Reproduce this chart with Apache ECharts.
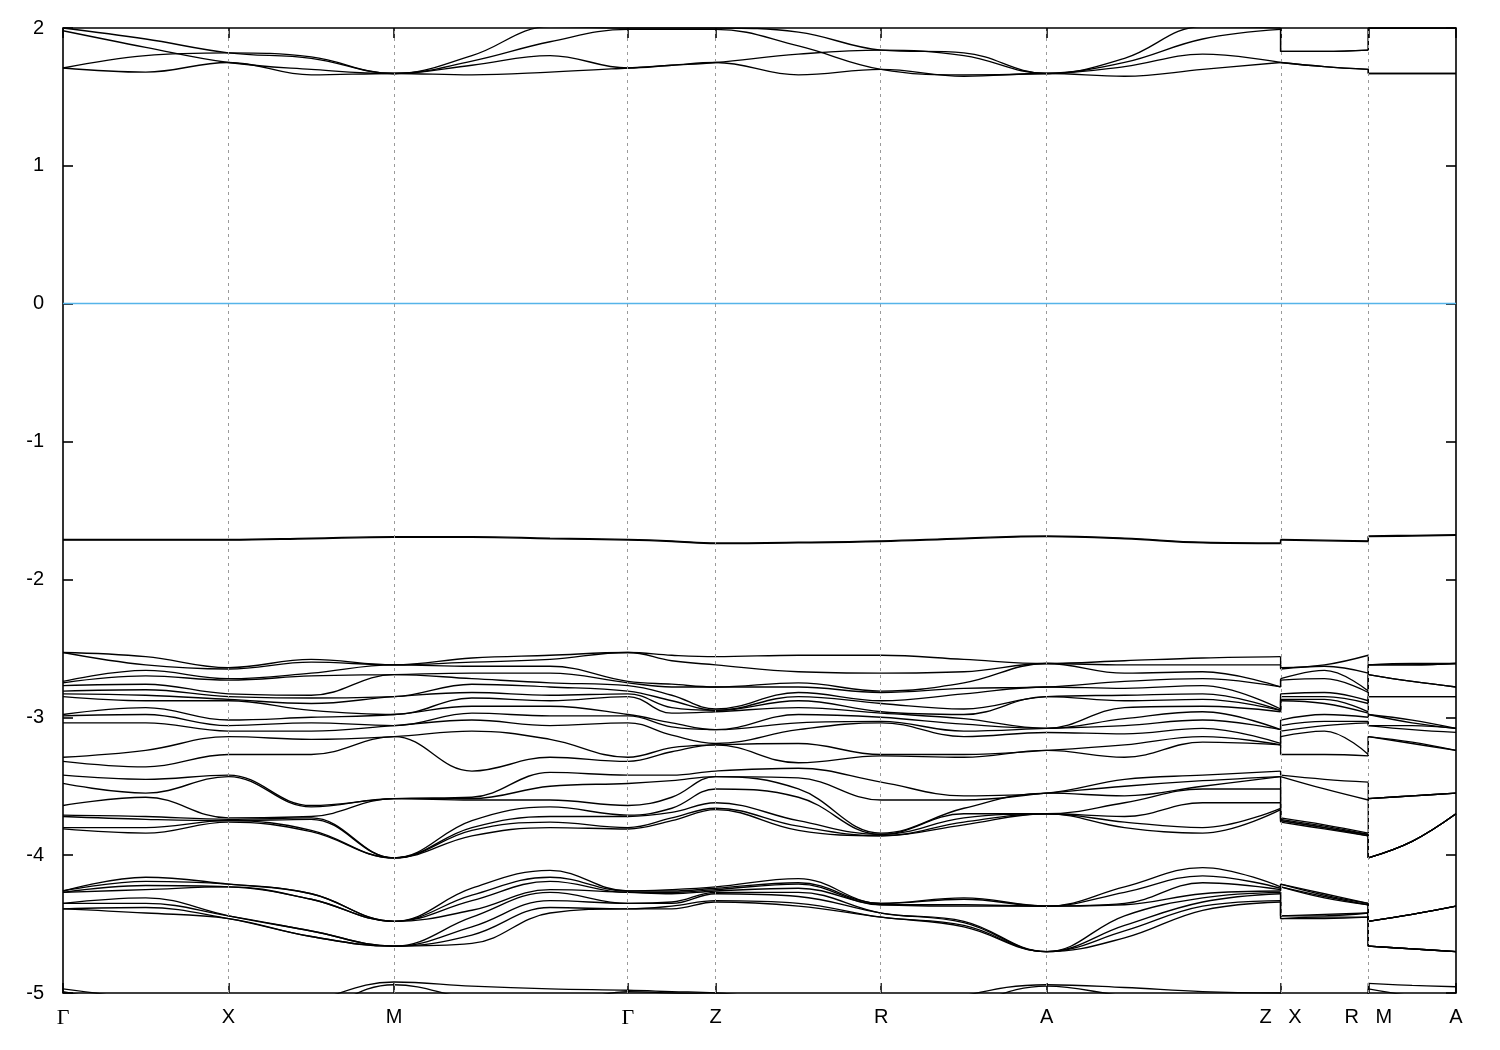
<!DOCTYPE html>
<html><head><meta charset="utf-8">
<script src="https://cdn.jsdelivr.net/npm/echarts@6/dist/echarts.min.js"></script>
<style>html,body{margin:0;padding:0;background:#fff}#chart{width:1500px;height:1050px}</style>
</head><body><div id="chart"></div>
<script>
// k-path sample positions (Γ-X = 1 unit); duplicated entries are path discontinuities
const kPath = [0,0.5,1,1.5,2,2.471,2.943,3.414,3.679,3.944,4.444,4.944,5.444,5.944,6.415,6.887,7.358,7.358,7.623,7.888,7.888,8.153,8.418];
const tickPos = [0,1,2,3.414,3.944,4.944,5.944,7.358,7.888,8.418];
const tickLabels = ['Γ','X','M','Γ','Z','R','A','Z   X','R   M','A'];

// conduction bands (eV), one value per kPath sample
const cond1 = [1.71,1.68,1.75,1.66,1.67,1.66,1.68,1.71,1.73,1.75,1.66,1.70,1.65,1.67,1.65,1.70,1.75,1.75,1.72,1.70,1.67,1.67,1.67];
const cond2 = [1.71,1.80,1.82,1.79,1.67,1.73,1.80,1.71,1.73,1.75,1.81,1.84,1.80,1.67,1.72,1.81,1.75,1.75,1.72,1.70,1.67,1.67,1.67];
const cond3 = [1.98,1.86,1.75,1.70,1.67,1.76,1.90,1.99,1.99,1.99,1.87,1.70,1.66,1.67,1.75,1.92,1.99,1.83,1.83,1.84,2.00,2.00,2.00];
const cond4 = [2.00,1.92,1.82,1.78,1.67,1.80,2.01,2.00,2.00,2.00,1.97,1.84,1.82,1.67,1.78,2.01,2.00,1.83,1.83,1.84,2.00,2.00,2.00];

// top valence bands
const val1 = [-1.71,-1.71,-1.71,-1.70,-1.69,-1.69,-1.70,-1.71,-1.72,-1.735,-1.73,-1.72,-1.70,-1.685,-1.70,-1.73,-1.735,-1.71,-1.715,-1.72,-1.685,-1.68,-1.675];
const val2 = [-1.715,-1.715,-1.715,-1.705,-1.695,-1.695,-1.705,-1.715,-1.725,-1.74,-1.735,-1.725,-1.705,-1.69,-1.705,-1.735,-1.74,-1.715,-1.72,-1.725,-1.69,-1.685,-1.68];

// deep bands near the bottom edge
const deep1 = [-4.97,-5.06,-5.20,-5.06,-4.92,-4.95,-4.97,-4.98,-4.99,-5.00,-5.06,-5.20,-5.02,-4.94,-4.96,-4.99,-5.00,-5.20,-5.20,-5.20,-4.93,-4.945,-4.955];
const deep2 = [-4.99,-5.12,-5.30,-5.15,-4.94,-5.04,-5.08,-4.99,-5.00,-5.01,-5.12,-5.30,-5.10,-4.95,-5.02,-5.06,-5.01,-5.30,-5.30,-5.30,-4.97,-5.02,-5.05];

// middle valence manifold (20 bands), energies at each sample point
const abG   = [-2.53,-2.53,-2.74,-2.75,-2.77,-2.81,-2.83,-2.85,-2.98,-2.99,-3.04,-3.29,-3.32,-3.42,-3.48,-3.64,-3.71,-3.72,-3.80,-3.81];
const abGX  = [-2.56,-2.62,-2.66,-2.70,-2.76,-2.80,-2.84,-2.88,-2.93,-2.98,-3.04,-3.24,-3.36,-3.45,-3.55,-3.58,-3.72,-3.74,-3.80,-3.84];
const abX   = [-2.64,-2.65,-2.72,-2.73,-2.83,-2.85,-2.87,-2.88,-3.02,-3.06,-3.10,-3.14,-3.27,-3.42,-3.43,-3.73,-3.74,-3.75,-3.75,-3.76];
const abXM  = [-2.58,-2.60,-2.68,-2.70,-2.84,-2.86,-2.90,-2.95,-3.00,-3.04,-3.10,-3.16,-3.27,-3.64,-3.65,-3.72,-3.73,-3.74,-3.82,-3.83];
const abM   = [-2.62,-2.62,-2.62,-2.69,-2.69,-2.85,-2.85,-2.98,-2.98,-3.06,-3.06,-3.14,-3.14,-3.59,-3.59,-3.59,-4.02,-4.02,-4.02,-4.02];
const abMG1 = [-2.57,-2.60,-2.63,-2.68,-2.72,-2.76,-2.82,-2.86,-2.92,-2.97,-3.02,-3.10,-3.39,-3.58,-3.59,-3.60,-3.75,-3.80,-3.82,-3.86];
const abMG2 = [-2.55,-2.58,-2.63,-2.68,-2.75,-2.78,-2.84,-2.88,-2.92,-2.99,-3.06,-3.16,-3.29,-3.40,-3.50,-3.60,-3.65,-3.72,-3.76,-3.80];
const abGZ  = [-2.55,-2.59,-2.76,-2.78,-2.84,-2.88,-2.93,-2.97,-3.04,-3.07,-3.13,-3.22,-3.25,-3.42,-3.46,-3.58,-3.66,-3.69,-3.73,-3.75];
const abZ   = [-2.56,-2.62,-2.78,-2.78,-2.94,-2.95,-2.95,-2.96,-3.09,-3.09,-3.19,-3.20,-3.20,-3.39,-3.43,-3.43,-3.52,-3.62,-3.66,-3.67];
const abZR  = [-2.55,-2.67,-2.75,-2.78,-2.82,-2.85,-2.88,-2.93,-2.98,-3.04,-3.09,-3.19,-3.33,-3.37,-3.44,-3.52,-3.58,-3.75,-3.79,-3.82];
const abR   = [-2.55,-2.68,-2.81,-2.82,-2.88,-2.90,-2.96,-2.97,-3.00,-3.03,-3.04,-3.27,-3.28,-3.47,-3.60,-3.84,-3.85,-3.85,-3.86,-3.86];
const abRA  = [-2.58,-2.67,-2.75,-2.79,-2.83,-2.94,-2.98,-3.01,-3.05,-3.10,-3.14,-3.27,-3.29,-3.57,-3.60,-3.66,-3.70,-3.73,-3.76,-3.78];
const abA   = [-2.61,-2.61,-2.61,-2.78,-2.78,-2.85,-2.85,-3.08,-3.08,-3.08,-3.11,-3.24,-3.24,-3.55,-3.55,-3.55,-3.70,-3.70,-3.70,-3.70];
const abAZ1 = [-2.59,-2.62,-2.68,-2.74,-2.79,-2.84,-2.88,-2.93,-3.01,-3.06,-3.12,-3.20,-3.29,-3.45,-3.50,-3.57,-3.62,-3.72,-3.76,-3.80];
const abAZ2 = [-2.57,-2.62,-2.67,-2.72,-2.77,-2.83,-2.87,-2.92,-2.96,-3.02,-3.08,-3.14,-3.18,-3.42,-3.46,-3.50,-3.52,-3.62,-3.80,-3.84];
const abXR  = [-2.62,-2.63,-2.66,-2.72,-2.82,-2.85,-2.87,-2.90,-2.98,-3.03,-3.06,-3.10,-3.27,-3.45,-3.52,-3.78,-3.79,-3.80,-3.80,-3.81];
const abMA  = [-2.62,-2.62,-2.61,-2.74,-2.74,-2.85,-2.85,-3.02,-3.04,-3.06,-3.09,-3.18,-3.19,-3.57,-3.57,-3.57,-3.90,-3.90,-3.90,-3.90];

// lower valence manifold (8 bands)
const lowG   = [-4.26,-4.26,-4.27,-4.27,-4.35,-4.35,-4.39,-4.39];
const lowGX  = [-4.16,-4.19,-4.22,-4.25,-4.31,-4.35,-4.38,-4.42];
const lowX   = [-4.21,-4.21,-4.23,-4.23,-4.44,-4.44,-4.46,-4.46];
const lowXM  = [-4.28,-4.28,-4.32,-4.32,-4.55,-4.55,-4.59,-4.59];
const lowM   = [-4.48,-4.48,-4.48,-4.48,-4.66,-4.66,-4.66,-4.66];
const lowMG1 = [-4.24,-4.29,-4.33,-4.40,-4.45,-4.52,-4.58,-4.64];
const lowMG2 = [-4.11,-4.16,-4.19,-4.25,-4.27,-4.33,-4.38,-4.42];
const lowGZ  = [-4.25,-4.26,-4.27,-4.28,-4.34,-4.35,-4.37,-4.39];
const lowZ   = [-4.23,-4.24,-4.25,-4.26,-4.27,-4.28,-4.33,-4.34];
const lowZR  = [-4.17,-4.20,-4.21,-4.24,-4.27,-4.30,-4.35,-4.37];
const lowR   = [-4.35,-4.35,-4.36,-4.36,-4.42,-4.42,-4.45,-4.45];
const lowRA  = [-4.31,-4.32,-4.36,-4.37,-4.48,-4.49,-4.51,-4.52];
const lowA   = [-4.37,-4.37,-4.37,-4.37,-4.70,-4.70,-4.70,-4.70];
const lowAZ1 = [-4.23,-4.27,-4.35,-4.36,-4.44,-4.51,-4.55,-4.60];
const lowAZ2 = [-4.09,-4.15,-4.20,-4.28,-4.31,-4.34,-4.37,-4.40];
const lowXR  = [-4.28,-4.29,-4.30,-4.31,-4.43,-4.44,-4.45,-4.46];
const lowMA  = [-4.43,-4.43,-4.43,-4.43,-4.68,-4.68,-4.68,-4.68];

const abCols = [abG,abGX,abX,abXM,abM,abMG1,abMG2,abG,abGZ,abZ,abZR,abR,abRA,abA,abAZ1,abAZ2,abZ,abX,abXR,abR,abM,abMA,abA];
const lowCols = [lowG,lowGX,lowX,lowXM,lowM,lowMG1,lowMG2,lowG,lowGZ,lowZ,lowZR,lowR,lowRA,lowA,lowAZ1,lowAZ2,lowZ,lowX,lowXR,lowR,lowM,lowMA,lowA];

function toBands(cols){
  const sorted = cols.map(c => c.slice().sort((a,b)=>a-b));
  const n = sorted[0].length, out = [];
  for (let i=0;i<n;i++) out.push(sorted.map(c=>c[i]));
  return out;
}

const bands = [cond1,cond2,cond3,cond4,val1,val2,deep1,deep2]
  .concat(toBands(abCols)).concat(toBands(lowCols));

const LINE = {color:'#000', width:1.35};
const segs = [[0,16],[17,19],[20,22]];   // smooth pieces of the path
const jumps = [[16,17],[19,20]];         // vertical discontinuities
const series = [];
bands.forEach(v => {
  segs.forEach(s => {
    const data = [];
    for (let j=s[0]; j<=s[1]; j++) data.push([kPath[j], v[j]]);
    series.push({type:'line', data, smooth:0.4, symbol:'none', showSymbol:false, silent:true, lineStyle:LINE, z:3});
  });
  jumps.forEach(p => {
    series.push({type:'line', data:[[kPath[p[0]], v[p[0]]],[kPath[p[1]], v[p[1]]]], smooth:false,
      symbol:'none', showSymbol:false, silent:true, lineStyle:LINE, z:3});
  });
});
// dashed verticals at symmetry points + Fermi level
series.push({type:'line', data:[], symbol:'none', silent:true,
  markLine:{silent:true, symbol:'none', label:{show:false}, animation:false,
    data: tickPos.slice(1,-1).map(p => ({xAxis:p, lineStyle:{color:'#9a9a9a', width:1, type:[3,4]}}))
      .concat([{yAxis:0, lineStyle:{color:'#56b4e9', width:1.3, type:'solid'}}])
  }});

const labelFmt = v => {
  let idx = 0, best = 1e9;
  tickPos.forEach((p,i)=>{ const d=Math.abs(p-v); if(d<best){best=d; idx=i;} });
  const t = tickLabels[idx];
  return t === 'Γ' ? '{g|Γ}' : t;
};

const chart = echarts.init(document.getElementById('chart'), null, {renderer:'canvas'});
chart.setOption({
  animation:false,
  backgroundColor:'#fff',
  grid:{left:63, right:44, top:28, bottom:57, show:true, borderColor:'#000', borderWidth:1.6, backgroundColor:'transparent'},
  xAxis:[
    {type:'value', min:0, max:8.418, position:'bottom', axisLine:{show:false, onZero:false}, splitLine:{show:false},
     axisTick:{show:true, inside:true, length:10, customValues:tickPos, lineStyle:{color:'#000', width:1.6}},
     axisLabel:{show:true, customValues:tickPos, formatter:labelFmt, margin:14, fontSize:20, color:'#000',
       fontFamily:'Liberation Sans, Arial, sans-serif',
       rich:{g:{fontFamily:'Liberation Serif, DejaVu Serif, serif', fontSize:22, color:'#000'}}}},
    {type:'value', min:0, max:8.418, position:'top', axisLine:{show:false, onZero:false}, splitLine:{show:false},
     axisTick:{show:true, inside:true, length:10, customValues:tickPos, lineStyle:{color:'#000', width:1.6}},
     axisLabel:{show:false}}
  ],
  yAxis:[
    {type:'value', min:-5, max:2, interval:1, position:'left', axisLine:{show:false, onZero:false}, splitLine:{show:false},
     axisTick:{show:true, inside:true, length:10, lineStyle:{color:'#000', width:1.6}},
     axisLabel:{margin:19, fontSize:20, color:'#000', fontFamily:'Liberation Sans, Arial, sans-serif'}},
    {type:'value', min:-5, max:2, interval:1, position:'right', axisLine:{show:false, onZero:false}, splitLine:{show:false},
     axisTick:{show:true, inside:true, length:10, lineStyle:{color:'#000', width:1.6}},
     axisLabel:{show:false}}
  ],
  series
});
</script>
</body></html>
